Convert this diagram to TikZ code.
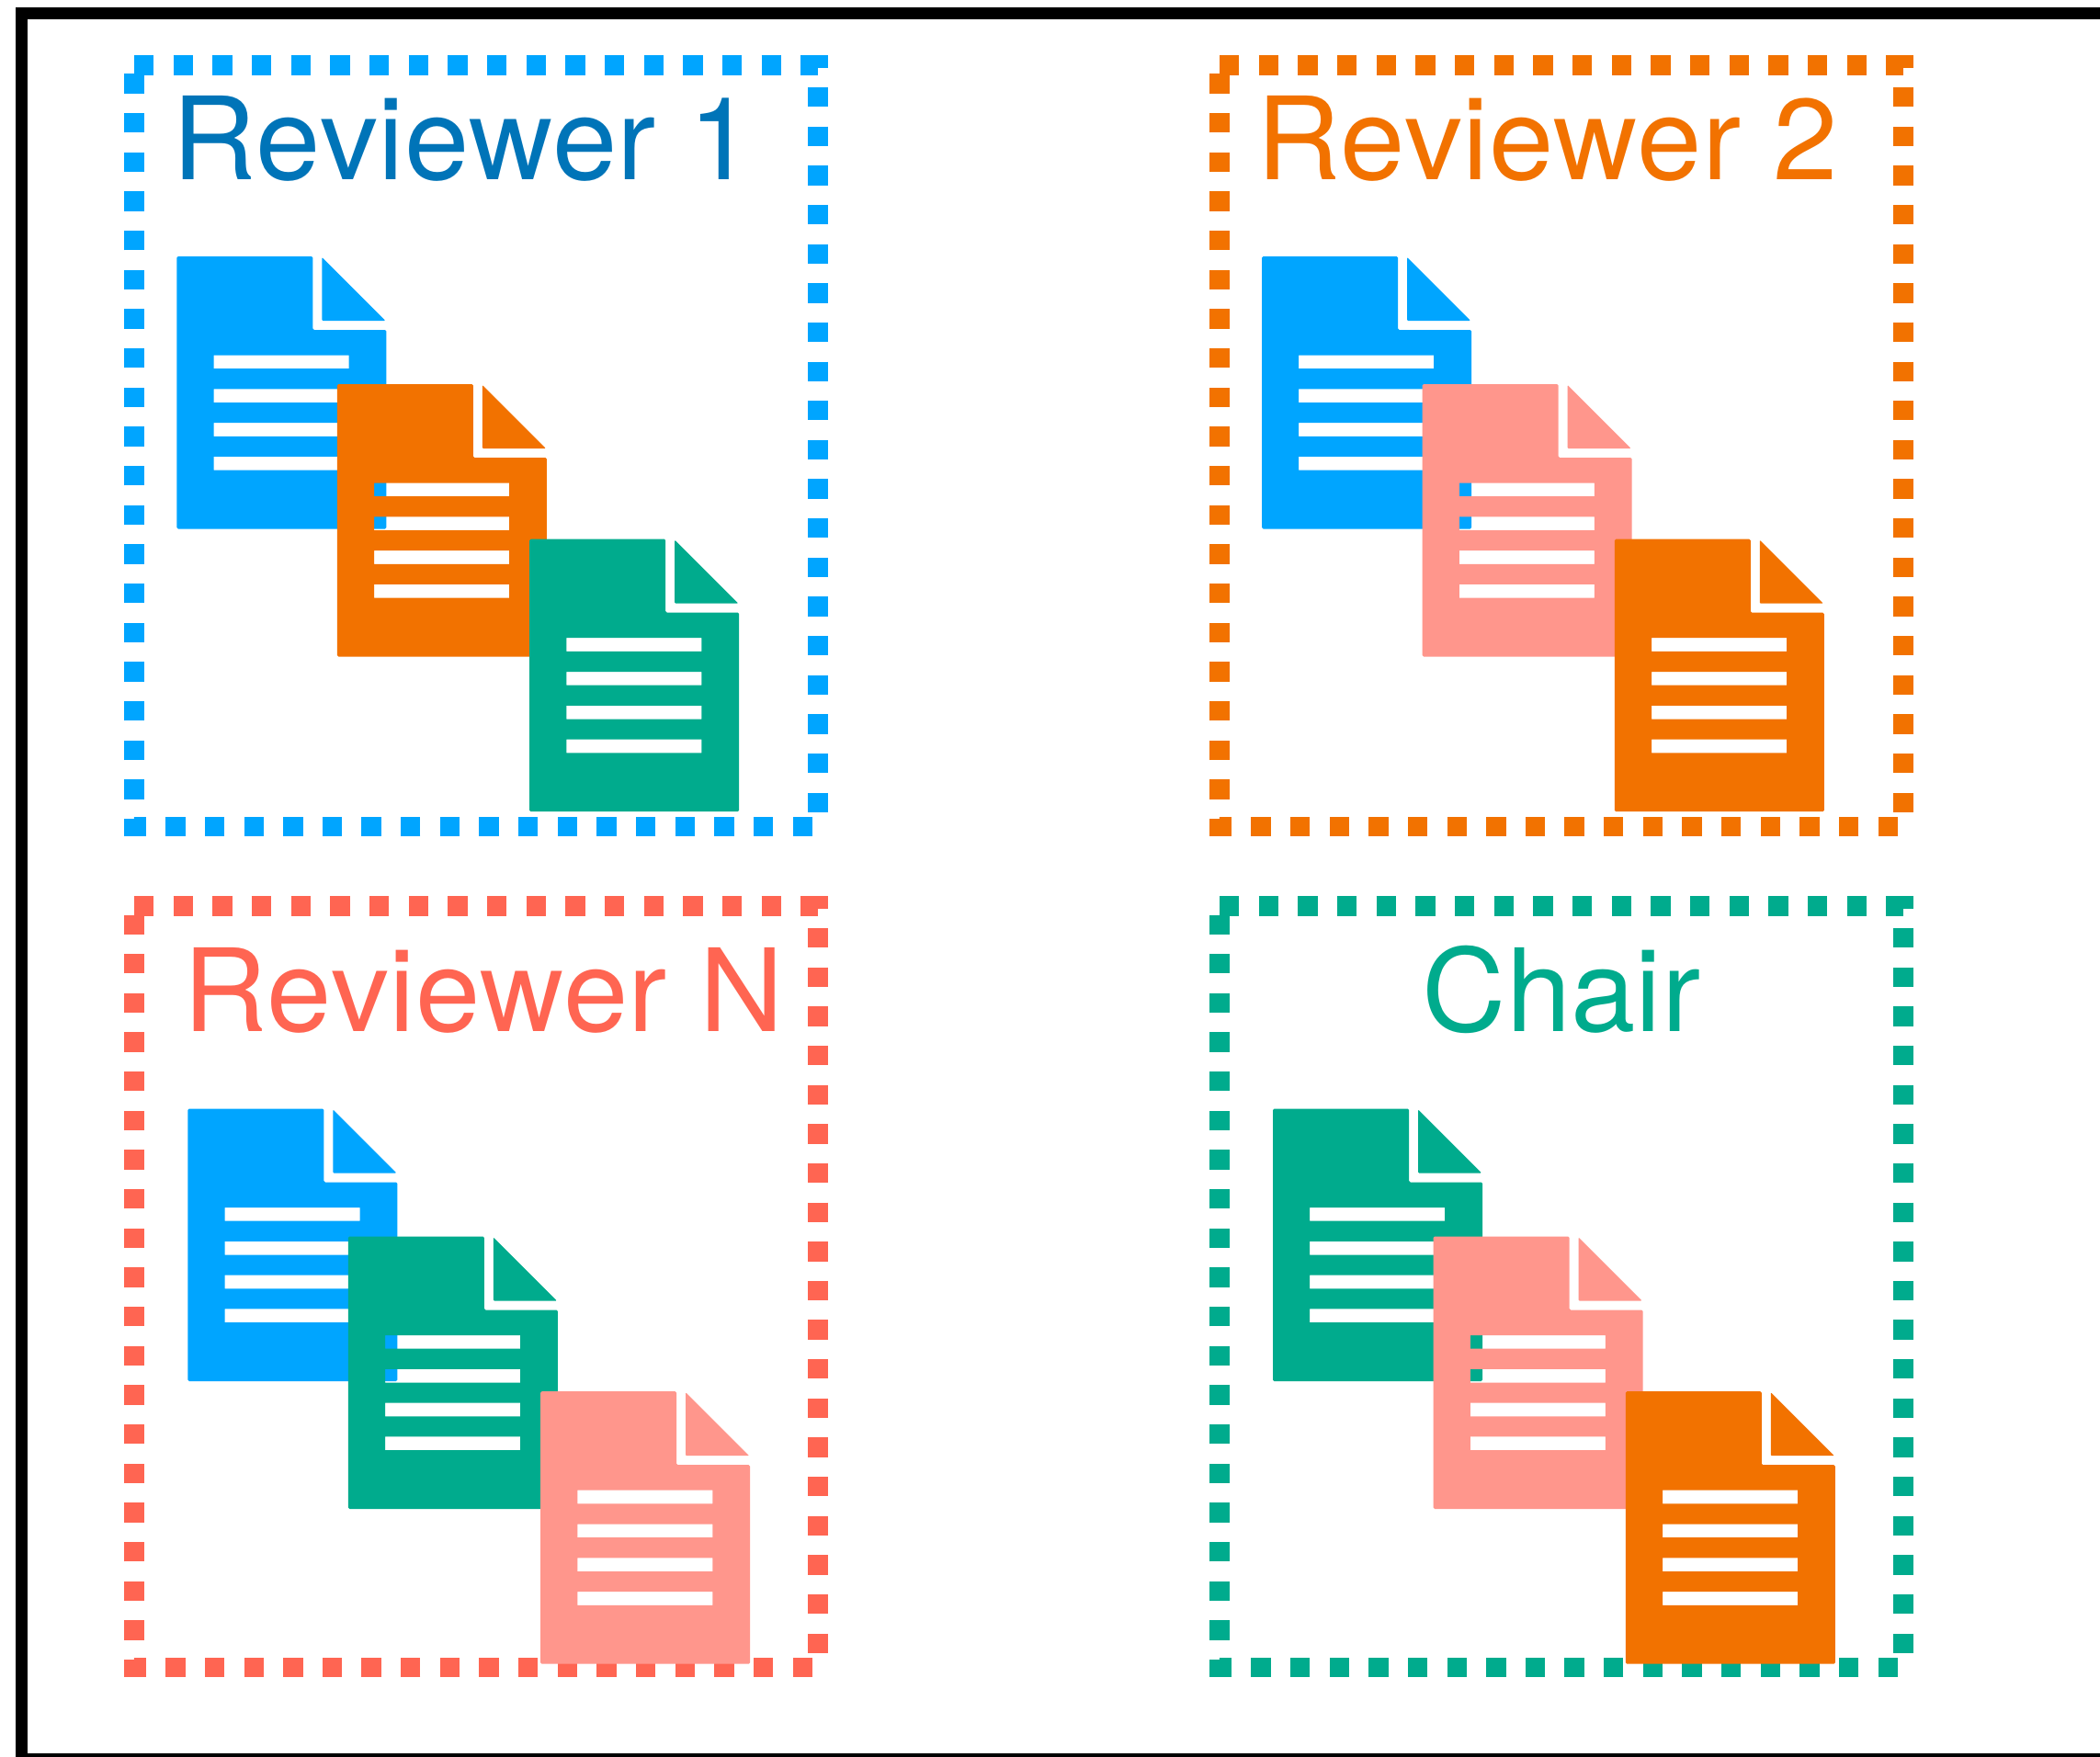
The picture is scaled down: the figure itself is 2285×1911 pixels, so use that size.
\documentclass[tikz,border=0pt]{standalone}
\usepackage{fontspec}
\setmainfont[Kerning=Off,FakeStretch=1.012]{TeX Gyre Heros}
\definecolor{cblue}{HTML}{00A5FF}
\definecolor{cblueT}{HTML}{0074B8}
\definecolor{corange}{HTML}{F27200}
\definecolor{cgreen}{HTML}{00AB8D}
\definecolor{cpink}{HTML}{FF968C}
\definecolor{ccoral}{HTML}{FF6552}
\tikzset{
  framestyle/.style={draw=black,line width=13pt,miter limit=10},
  dashbox/.style={line width=21.5pt,dash pattern=on 21.33pt off 21.33pt,line join=miter},
  title/.style={inner sep=0pt,outer sep=0pt,anchor=base west,font=\fontsize{125}{130}\selectfont},
}
\newcommand{\docicon}[3]{%
  \begin{scope}[shift={(#1,#2)}]
    \fill[#3,even odd rule]
      [rounded corners=1.5pt] (0,0) -- (148,0) -- (148,80) -- (228,80) -- (228,296.5) -- (0,296.5) -- cycle
      [sharp corners]
      (40.2,107.5) rectangle (187.2,122.2)
      (40.2,144.3) rectangle (187.2,159)
      (40.2,181.1) rectangle (187.2,195.8)
      (40.2,217.9) rectangle (187.2,232.6);
    \fill[#3,rounded corners=1pt] (158,1) -- (158,70) -- (227,70) -- cycle;
  \end{scope}}
\newcommand{\dashframe}[3]{%
  \begin{scope}[shift={(#1,#2)}]
    \draw[#3,dashbox] (146,71) -- (890,71) -- (890,899.5) -- (146,899.5) -- (146,71);
  \end{scope}}
\newcommand{\docstack}[5]{%
  \docicon{#1+192.3}{#2+279}{#3}
  \docicon{#1+366.9}{#2+418}{#4}
  \docicon{#1+576.2}{#2+586.7}{#5}}
\begin{document}
\begin{tikzpicture}[x=1pt,y=-1pt]
  \clip (0,0) rectangle (2285,1911);
  \fill[white] (0,0) rectangle (2285,1911);
  \draw[framestyle] (2300,14.6) -- (23.3,14.6) -- (23.3,1914.8) -- (2300,1914.8);

  \dashframe{0}{0}{cblue}
  \dashframe{1181}{0}{corange}
  \dashframe{0}{915}{ccoral}
  \dashframe{1181}{915}{cgreen}

  \node[title,text=cblueT] (r1) at (187,195) {Reviewer 1};
  \node[title,text=corange] (r2) at (1367,195) {Reviewer 2};
  \node[title,text=ccoral] (rn) at (199,1122.5) {Reviewer N};
  \node[title,text=cgreen,anchor=base] (chair) at (1699,1122.5) {Chair};

  \docstack{0}{0}{cblue}{corange}{cgreen}
  \docstack{1180.7}{0}{cblue}{cpink}{corange}
  \docstack{12}{927.5}{cblue}{cgreen}{cpink}
  \docstack{1192.7}{927.5}{cgreen}{cpink}{corange}
\end{tikzpicture}
\end{document}
